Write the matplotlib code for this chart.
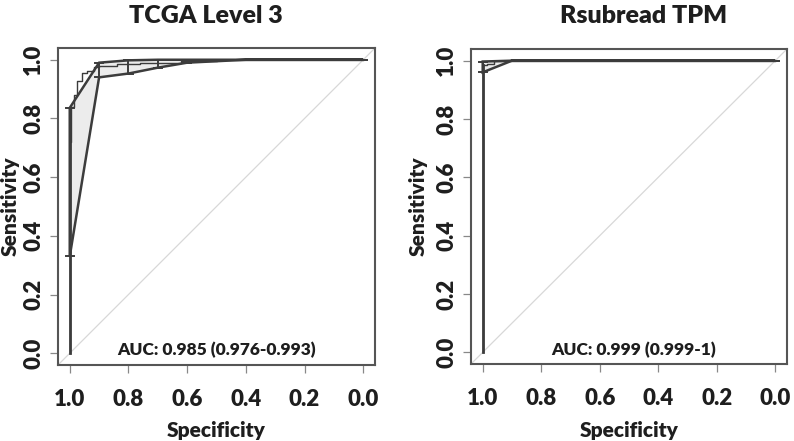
import matplotlib
matplotlib.use("Agg")
import matplotlib.pyplot as plt
import numpy as np

plt.rcParams['font.family'] = ['Lato', 'DejaVu Sans']

# ---- data ----
titles = ["TCGA Level 3", "Rsubread TPM"]
auc_texts = ["AUC: 0.985 (0.976-0.993)", "AUC: 0.999 (0.999-1)"]
ticks = [0.0, 0.2, 0.4, 0.6, 0.8, 1.0]
tick_labels = ["0.0", "0.2", "0.4", "0.6", "0.8", "1.0"]

ci_spec = [1.0, 0.9, 0.8, 0.7, 0.6, 0.5, 0.4, 0.3, 0.2, 0.1, 0.0]
# TCGA Level 3
tcga_se_low = [0.33, 0.94, 0.953, 0.973, 0.99, 0.995, 1.0, 1.0, 1.0, 1.0, 1.0]
tcga_se_high = [0.836, 0.99, 0.998, 1.0, 1.0, 1.0, 1.0, 1.0, 1.0, 1.0, 1.0]
tcga_roc_sp = [1.0, 1.0, 0.995, 0.995, 0.985, 0.985, 0.976, 0.976, 0.959, 0.959,
               0.942, 0.942, 0.918, 0.918, 0.9, 0.9, 0.84, 0.84, 0.76, 0.76,
               0.62, 0.62, 0.5, 0.5, 0.0]
tcga_roc_se = [0.0, 0.72, 0.72, 0.84, 0.84, 0.88, 0.88, 0.928, 0.928, 0.955,
               0.955, 0.962, 0.962, 0.975, 0.975, 0.978, 0.978, 0.985, 0.985, 0.99,
               0.99, 0.995, 0.995, 1.0, 1.0]
# Rsubread TPM
rsub_se_low = [0.96, 1.0, 1.0, 1.0, 1.0, 1.0, 1.0, 1.0, 1.0, 1.0, 1.0]
rsub_se_high = [0.997, 1.0, 1.0, 1.0, 1.0, 1.0, 1.0, 1.0, 1.0, 1.0, 1.0]
rsub_roc_sp = [1.0, 1.0, 0.985, 0.985, 0.96, 0.96, 0.0]
rsub_roc_se = [0.0, 0.985, 0.985, 0.99, 0.99, 1.0, 1.0]

panels = [
    (tcga_se_low, tcga_se_high, tcga_roc_sp, tcga_roc_se),
    (rsub_se_low, rsub_se_high, rsub_roc_sp, rsub_roc_se),
]

W, H = 794, 441
fig = plt.figure(figsize=(W / 100, H / 100), dpi=100)

axes_px = [(58, 48, 375, 365), (471, 49, 787, 364)]
title_x = [206, 644]
auc_x = [217, 634]
ylab_x = [10, 418]

line_col = "#3c3c3c"
fill_col = "#ececec"
text_col = "#1e1e1e"

for i, (lo, hi, rsp, rse) in enumerate(panels):
    x0, y0, x1, y1 = axes_px[i]
    ax = fig.add_axes([x0 / W, 1 - y1 / H, (x1 - x0) / W, (y1 - y0) / H])
    ax.set_xlim(1.04, -0.04)
    ax.set_ylim(-0.04, 1.04)

    # diagonal reference line across whole region
    ax.plot([1.04, -0.04], [-0.04, 1.04], color="#d8d8d8", lw=0.9, zorder=1)

    # CI shape
    poly_x = list(ci_spec) + list(ci_spec[::-1])
    poly_y = list(hi) + list(lo[::-1])
    ax.fill(poly_x, poly_y, facecolor=fill_col, edgecolor=line_col, lw=1.8, zorder=2)

    # CI bars
    cap = 0.014
    for s, l, h in zip(ci_spec, lo, hi):
        ax.plot([s, s], [l, h], color=line_col, lw=1.4, zorder=3)
        ax.plot([s - cap, s + cap], [l, l], color=line_col, lw=1.4, zorder=3)
        ax.plot([s - cap, s + cap], [h, h], color=line_col, lw=1.4, zorder=3)

    # ROC curve
    ax.plot(rsp, rse, color=line_col, lw=1.0, zorder=4)
    ax.plot([1.0, 1.0], [0.0, rse[1]], color=line_col, lw=2.0, zorder=4)

    for sp in ax.spines.values():
        sp.set_color("#555555")
        sp.set_linewidth(1.5)

    ax.set_xticks(ticks)
    ax.set_xticklabels(tick_labels)
    ax.set_yticks(ticks)
    ax.set_yticklabels(tick_labels, rotation=90, va="center")
    ax.tick_params(axis="x", length=6, width=0.9, color="#888888", pad=11,
                   labelsize=16, labelcolor=text_col)
    ax.tick_params(axis="y", length=6, width=0.9, color="#888888", pad=4,
                   labelsize=16, labelcolor=text_col)
    for lab in ax.get_xticklabels() + ax.get_yticklabels():
        lab.set_fontweight("heavy")

    ax.text(auc_x[i] / W, 1 - 350 / H, auc_texts[i], transform=fig.transFigure,
            ha="center", va="center", fontsize=12.5, fontweight="heavy", color=text_col)

    fig.text(title_x[i] / W, 1 - 16 / H, titles[i], ha="center", va="center",
             fontsize=18, fontweight="heavy", color=text_col)
    fig.text((x0 + x1) / 2 / W, 1 - 430 / H, "Specificity", ha="center", va="center",
             fontsize=15, fontweight="heavy", color=text_col)
    fig.text(ylab_x[i] / W, 1 - (y0 + y1) / 2 / H, "Sensitivity", ha="center", va="center",
             rotation=90, fontsize=15, fontweight="heavy", color=text_col)

fig.savefig("out.png", dpi=100)
